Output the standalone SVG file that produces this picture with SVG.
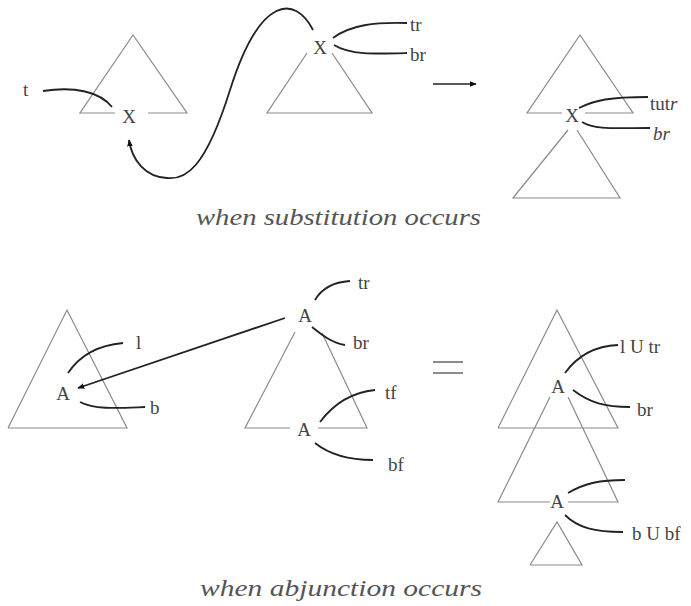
<svg xmlns="http://www.w3.org/2000/svg" width="691" height="606" viewBox="0 0 691 606">
<style>
.tri{fill:none;stroke:#8a8a8a;stroke-width:1.2}
.cur{fill:none;stroke:#222;stroke-width:1.8}
text{font-family:"Liberation Serif",Tinos,"Times New Roman",Times,serif}
.lbl{font-size:19px;fill:#444}
.cap{font-style:italic;font-size:23px;fill:#555}
</style>
<defs>
<marker id="ah" viewBox="0 0 10 10" refX="9" refY="5" markerWidth="7" markerHeight="7" orient="auto" markerUnits="userSpaceOnUse">
<path d="M0,1 L10,5 L0,9 z" fill="#111"/>
</marker>
</defs>
<rect width="691" height="606" fill="#fff"/>

<g id="sub-left">
<polyline class="tri" points="115,113 80,113 133,35 187,113 148,113"/>
<text class="lbl" x="129" y="123" text-anchor="middle" font-size="17">X</text>
<text class="lbl" x="23" y="96">t</text>
</g>
<g id="sub-mid">
<polyline class="tri" points="307,53 267,113 372,113 332,53"/>
<text class="lbl" x="320" y="54" text-anchor="middle" font-size="17">X</text>
<text class="lbl" x="410" y="31">tr</text>
<text class="lbl" x="410" y="61">br</text>
</g>
<g id="sub-right">
<polyline class="tri" points="562,113 527,113 580,35 633,113 585,113"/>
<polyline class="tri" points="568,130 513,198 620,198 577,130"/>
<text class="lbl" x="572" y="122" text-anchor="middle" font-size="17">X</text>
<text class="lbl" x="650" y="110">tut<tspan font-style="italic">r</tspan></text>
<text class="lbl" x="653" y="140" font-style="italic">br</text>
</g>
<text class="cap" x="196" y="225" textLength="285" lengthAdjust="spacingAndGlyphs">when substitution occurs</text>

<g id="adj-left">
<polyline class="tri" points="8,428 67,310 127,428 8,428"/>
<text class="lbl" x="63" y="400" text-anchor="middle" font-size="15">A</text>
<text class="lbl" x="136" y="349">l</text>
<text class="lbl" x="150" y="414">b</text>
</g>
<g id="adj-mid">
<polyline class="tri" points="295,332 245,428 290,428"/>
<polyline class="tri" points="322,333 367,428 318,428"/>
<text class="lbl" x="305" y="322" text-anchor="middle" font-size="16">A</text>
<text class="lbl" x="304" y="436" text-anchor="middle" font-size="16">A</text>
<text class="lbl" x="358" y="289">tr</text>
<text class="lbl" x="353" y="349">br</text>
<text class="lbl" x="385" y="399">tf</text>
<text class="lbl" x="388" y="471">bf</text>
</g>
<g id="equals">
<line x1="433" y1="362" x2="463" y2="362" stroke="#666" stroke-width="1.5"/>
<line x1="433" y1="373" x2="463" y2="373" stroke="#666" stroke-width="1.5"/>
</g>
<g id="adj-right">
<polyline class="tri" points="498,428 557,310 618,428 498,428"/>
<polyline class="tri" points="550,397 498,502 550,502"/>
<polyline class="tri" points="568,397 618,502 568,502"/>
<polyline class="tri" points="530,565 557,522 582,565 530,565"/>
<text class="lbl" x="558" y="393" text-anchor="middle" font-size="15">A</text>
<text class="lbl" x="557" y="508" text-anchor="middle" font-size="15">A</text>
<text class="lbl" x="620" y="353">l U tr</text>
<text class="lbl" x="637" y="416">br</text>
<text class="lbl" x="632" y="540">b U bf</text>
</g>
<text class="cap" x="200" y="596" textLength="282" lengthAdjust="spacingAndGlyphs">when abjunction occurs</text>

<g id="connectors">
<path class="cur" d="M43,91 C75,86 100,92 112,107"/>
<path class="cur" d="M313,30 C295,-5 260,-5 230,90 C205,170 185,180 167,178 C145,177 132,160 129,140" marker-end="url(#ah)"/>
<path class="cur" d="M333,38 C350,25 375,22 407,23"/>
<path class="cur" d="M334,45 C350,55 375,54 407,53"/>
<line x1="433" y1="84" x2="476" y2="84" stroke="#222" stroke-width="1.5" marker-end="url(#ah)"/>
<path class="cur" d="M579,108 C595,100 610,97 648,97"/>
<path class="cur" d="M582,122 C595,130 615,128 650,128"/>
<path class="cur" d="M68,373 C80,355 100,345 123,343"/>
<path class="cur" d="M80,402 C95,410 120,408 145,407"/>
<line x1="285" y1="318" x2="78" y2="388" stroke="#222" stroke-width="1.8" marker-end="url(#ah)"/>
<path class="cur" d="M315,300 C322,288 335,282 350,281"/>
<path class="cur" d="M312,327 C322,335 332,343 345,345"/>
<path class="cur" d="M320,422 C335,402 355,392 375,390"/>
<path class="cur" d="M315,443 C330,455 350,460 373,460"/>
<path class="cur" d="M565,373 C578,355 595,346 618,345"/>
<path class="cur" d="M573,390 C590,403 605,407 630,407"/>
<path class="cur" d="M568,493 C585,483 600,480 625,480"/>
<path class="cur" d="M565,515 C578,528 595,532 623,532"/>
</g>
</svg>
